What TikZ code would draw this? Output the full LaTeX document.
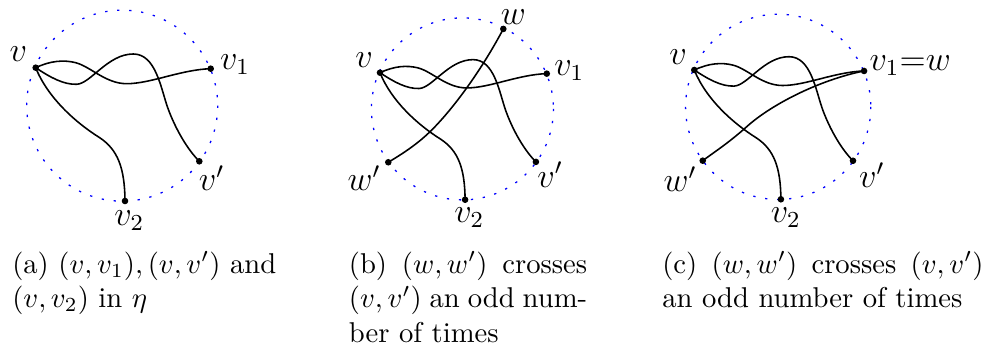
\documentclass[tikz,border=0pt]{standalone}
\begin{document}
\begin{tikzpicture}[x=0.34919pt,y=-0.34919pt,
  dot/.style={circle,fill,inner sep=0pt,minimum size=2.3pt},
  lbl/.style={font=\large,inner sep=0pt},
  wire/.style={line width=0.55pt},
  rim/.style={blue,dash pattern=on 0.8pt off 3.4pt,line width=0.45pt},
  captext/.style={anchor=base west,inner sep=0pt}]
\useasboundingbox (0,0) rectangle (988,354);

% ---------- panel (a)
\begin{scope}[shift={(35.7,67.7)}]
  \draw[rim] (86.5,38) circle[radius=95.5];
  \node[dot] (a-v)  at (0,0) {};
  \node[dot] (a-v1) at (175,1) {};
  \node[dot] (a-vp) at (163.6,93.6) {};
  \node[dot] (a-v2) at (89.3,133.3) {};
  \draw[wire] (a-v.center) .. controls (15,-7) and (28,-8) .. (40,-5)
     .. controls (55,-1) and (70,16) .. (91,16)
     .. controls (115,16) and (145,2) .. (a-v1.center);
  \draw[wire] (a-v.center) .. controls (15,10) and (28,17) .. (41,16.6)
     .. controls (55,16) and (72,-13.7) .. (97.6,-13.7)
     .. controls (120,-13.7) and (125,20) .. (132,40)
     .. controls (140,62) and (152,82) .. (a-vp.center);
  \draw[wire] (a-v.center) .. controls (12,30) and (40,55) .. (64,70)
     .. controls (82,82) and (89,100) .. (a-v2.center);
  \node[lbl] (a-lv)  at (-17.4,-13.5) {$v$};
  \node[lbl] (a-lv1) at (199.3,-2.7) {$v_1$};
  \node[lbl] (a-lvp) at (176,110.3) {$v'$};
  \node[lbl] (a-lv2) at (93.5,153.3) {$v_2$};
\end{scope}

% ---------- panel (b)
\begin{scope}[shift={(380,72.7)},scale=0.953]
  \draw[rim] (86.5,38) circle[radius=95.5];
  \node[dot] (b-v)  at (0,0) {};
  \node[dot] (b-v1) at (175,1) {};
  \node[dot] (b-vp) at (163.6,93.6) {};
  \node[dot] (b-v2) at (89.3,133.3) {};
  \node[dot] (b-w)  at (129.4,-45.9) {};
  \node[dot] (b-wp) at (8.7,94) {};
  \draw[wire] (b-v.center) .. controls (15,-7) and (28,-8) .. (40,-5)
     .. controls (55,-1) and (70,16) .. (91,16)
     .. controls (115,16) and (145,2) .. (b-v1.center);
  \draw[wire] (b-v.center) .. controls (15,10) and (28,17) .. (41,16.6)
     .. controls (55,16) and (72,-13.7) .. (97.6,-13.7)
     .. controls (120,-13.7) and (125,20) .. (132,40)
     .. controls (140,62) and (152,82) .. (b-vp.center);
  \draw[wire] (b-v.center) .. controls (12,30) and (40,55) .. (64,70)
     .. controls (82,82) and (89,100) .. (b-v2.center);
  \draw[wire] (b-w.center) .. controls (105,0) and (75,40) .. (52.5,61.9)
     .. controls (38,76) and (22,86) .. (b-wp.center);
  \node[lbl] (b-lv)  at (-16.6,-13.3) {$v$};
  \node[lbl] (b-lv1) at (198.6,-2.4) {$v_1$};
  \node[lbl] (b-lvp) at (178.6,106.9) {$v'$};
  \node[lbl] (b-lv2) at (93.7,152.3) {$v_2$};
  \node[lbl] (b-lw)  at (139.9,-58.8) {$w$};
  \node[lbl] (b-lwp) at (-16.6,110.8) {$w'$};
\end{scope}

% ---------- panel (c)
\begin{scope}[shift={(694.3,70)},scale=0.97]
  \draw[rim] (86.5,38) circle[radius=95.5];
  \node[dot] (c-v)  at (0,0) {};
  \node[dot] (c-v1) at (175,1) {};
  \node[dot] (c-vp) at (163.6,93.6) {};
  \node[dot] (c-v2) at (89.3,133.3) {};
  \node[dot] (c-wp) at (8.7,93.5) {};
  \draw[wire] (c-v.center) .. controls (15,-7) and (28,-8) .. (40,-5)
     .. controls (55,-1) and (70,16) .. (91,16)
     .. controls (115,16) and (145,2) .. (c-v1.center);
  \draw[wire] (c-v.center) .. controls (15,10) and (28,17) .. (41,16.6)
     .. controls (55,16) and (72,-13.7) .. (97.6,-13.7)
     .. controls (120,-13.7) and (125,20) .. (132,40)
     .. controls (140,62) and (152,82) .. (c-vp.center);
  \draw[wire] (c-v.center) .. controls (12,30) and (40,55) .. (64,70)
     .. controls (82,82) and (89,100) .. (c-v2.center);
  \draw[wire] (c-v1.center) .. controls (130,10) and (80,35) .. (54,58.5)
     .. controls (35,75.5) and (20,85) .. (c-wp.center);
  \node[lbl] (c-lv)  at (-16.8,-12.9) {$v$};
  \node[lbl] (c-lv1) at (222.6,-4.1) {$v_1{=}w$};
  \node[lbl] (c-lvp) at (183.2,108.3) {$v'$};
  \node[lbl] (c-lv2) at (94.3,151.8) {$v_2$};
  \node[lbl] (c-lwp) at (-14.7,112.4) {$w'$};
\end{scope}

% ---------- captions
\node[captext] (capa) at (11.7,273.3) {\vtop{\hbox{(a) $(v,v_1),(v,v')$ and}\hbox{$(v,v_2)$ in $\eta$}}};
\node[captext] (capb) at (348.3,273.3) {\vtop{\hbox{\makebox[83.2pt][s]{(b) $(w,w')$ crosses}}\hbox{\makebox[83.2pt][s]{$(v,v')$ an odd num-}}\hbox{ber of times}}};
\node[captext] (capc) at (661.7,273.3) {\vtop{\hbox{\makebox[112.2pt][s]{(c) $(w,w')$ crosses $(v,v')$}}\hbox{an odd number of times}}};
\end{tikzpicture}
\end{document}
